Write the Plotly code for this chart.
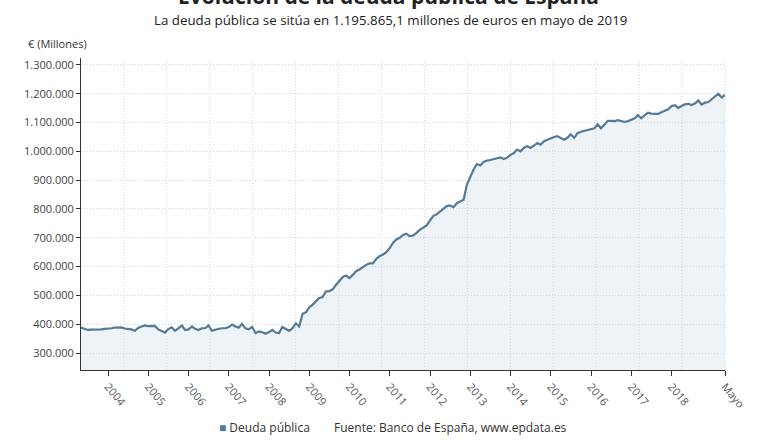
import pandas as pd
import plotly.graph_objects as go

# Monthly public debt (millions of euros), May 2003 - May 2019
d2003 = [388, 383, 380, 381, 381, 382, 382, 384]  # May-Dec
d2004 = [384, 386, 388, 389, 389, 385, 383, 382, 377, 387, 392, 396]
d2005 = [393, 394, 394, 382, 377, 371, 383, 389, 377, 386, 395, 380]
d2006 = [382, 392, 384, 380, 386, 386, 396, 377, 381, 384, 386, 386]
d2007 = [390, 399, 392, 388, 401, 386, 382, 391, 369, 375, 372, 367]
d2008 = [373, 380, 371, 369, 390, 383, 377, 386, 403, 392, 436, 441]
d2009 = [459, 468, 478, 491, 494, 514, 515, 521, 537, 552, 564, 569]
d2010 = [560, 572, 584, 590, 599, 606, 611, 611, 627, 636, 642, 650]
d2011 = [665, 683, 694, 700, 710, 714, 706, 708, 717, 728, 735, 743]
d2012 = [760, 776, 781, 790, 800, 810, 812, 806, 820, 826, 832, 885]
d2013 = [915, 938, 956, 951, 963, 968, 970, 972, 976, 979, 973, 978]
d2014 = [988, 994, 1006, 1000, 1012, 1018, 1012, 1020, 1029, 1023, 1035, 1040]
d2015 = [1046, 1050, 1053, 1047, 1040, 1047, 1059, 1047, 1063, 1068, 1071, 1074]
d2016 = [1076, 1080, 1094, 1080, 1092, 1106, 1106, 1105, 1108, 1106, 1102, 1105]
d2017 = [1110, 1115, 1126, 1115, 1125, 1134, 1131, 1131, 1130, 1136, 1142, 1146]
d2018 = [1157, 1160, 1151, 1157, 1163, 1165, 1161, 1166, 1177, 1162, 1169, 1171]
d2019 = [1180, 1190, 1200, 1187, 1195.865]  # Jan-May

values_k = (d2003 + d2004 + d2005 + d2006 + d2007 + d2008 + d2009 + d2010 + d2011
            + d2012 + d2013 + d2014 + d2015 + d2016 + d2017 + d2018 + d2019)
deuda = [v * 1000 for v in values_k]
fechas = pd.date_range("2003-05-01", periods=len(deuda), freq="MS")

tick_years = [str(y) for y in range(2004, 2019)]
tick_vals = [f"{y}-01-01" for y in tick_years] + ["2019-05-01"]
tick_text = tick_years + ["Mayo"]
y_ticks = list(range(300000, 1300001, 100000))

FONT = "Open Sans"
LINE = "#557a95"
GRID = "#d4d4d4"

fig = go.Figure()
fig.add_trace(go.Scatter(
    x=fechas, y=deuda, mode="lines",
    line=dict(color=LINE, width=2.2),
    fill="tozeroy", fillcolor="rgba(206,221,235,0.35)",
    name="Deuda pública", showlegend=False,
))

shapes = []
for i in range(1, 16):
    shapes.append(dict(type="line", xref="paper", yref="paper",
                       x0=i / 15, x1=i / 15, y0=0, y1=1,
                       line=dict(color=GRID, width=1, dash="1px,2px"),
                       layer="below"))

annotations = [
    dict(text="<b>Evolución de la deuda pública de España</b>", xref="paper", yref="paper",
         x=0.478, y=1.20, xanchor="center", yanchor="middle", showarrow=False,
         font=dict(family=FONT, size=21, color="#222")),
    dict(text="La deuda pública se sitúa en 1.195.865,1 millones de euros en mayo de 2019",
         xref="paper", yref="paper", x=0.481, y=1.122, xanchor="center", yanchor="middle",
         showarrow=False, font=dict(family=FONT, size=13.3, color="#222")),
    dict(text="€ (Millones)", xref="paper", yref="paper", x=-0.085, y=1.045,
         xanchor="left", yanchor="middle", showarrow=False,
         font=dict(family=FONT, size=11, color="#333")),
    dict(text="<span style='color:#4d7ba3'>■</span> Deuda pública", xref="paper", yref="paper",
         x=(217 - 81) / 644, y=-0.183, xanchor="left", yanchor="middle", showarrow=False,
         font=dict(family=FONT, size=12, color="#333")),
    dict(text="Fuente: Banco de España, www.epdata.es", xref="paper", yref="paper",
         x=(332 - 81) / 644, y=-0.183, xanchor="left", yanchor="middle", showarrow=False,
         font=dict(family=FONT, size=12, color="#333")),
]

fig.update_layout(
    width=780, height=440,
    margin=dict(l=81, r=55, t=58, b=70),
    paper_bgcolor="white", plot_bgcolor="white",
    separators=",.",
    font=dict(family=FONT, size=11, color="#444"),
    shapes=shapes, annotations=annotations,
    xaxis=dict(
        type="date", range=[fechas[0], fechas[-1]],
        tickvals=tick_vals, ticktext=tick_text, tickangle=50,
        showgrid=False, showline=True, linecolor="#333", linewidth=1,
        ticks="outside", ticklen=5, tickcolor="#333",
        tickfont=dict(family=FONT, size=11, color="#555"),
        zeroline=False,
    ),
    yaxis=dict(
        range=[241000, 1324000], tickvals=y_ticks, tickformat=",d",
        showgrid=True, gridcolor=GRID, griddash="1px,2px", gridwidth=1,
        showline=True, linecolor="#333", linewidth=1,
        ticks="outside", ticklen=4, tickcolor="#333",
        tickfont=dict(family=FONT, size=11, color="#444"),
        zeroline=False,
    ),
)

fig.write_html("out.html")
